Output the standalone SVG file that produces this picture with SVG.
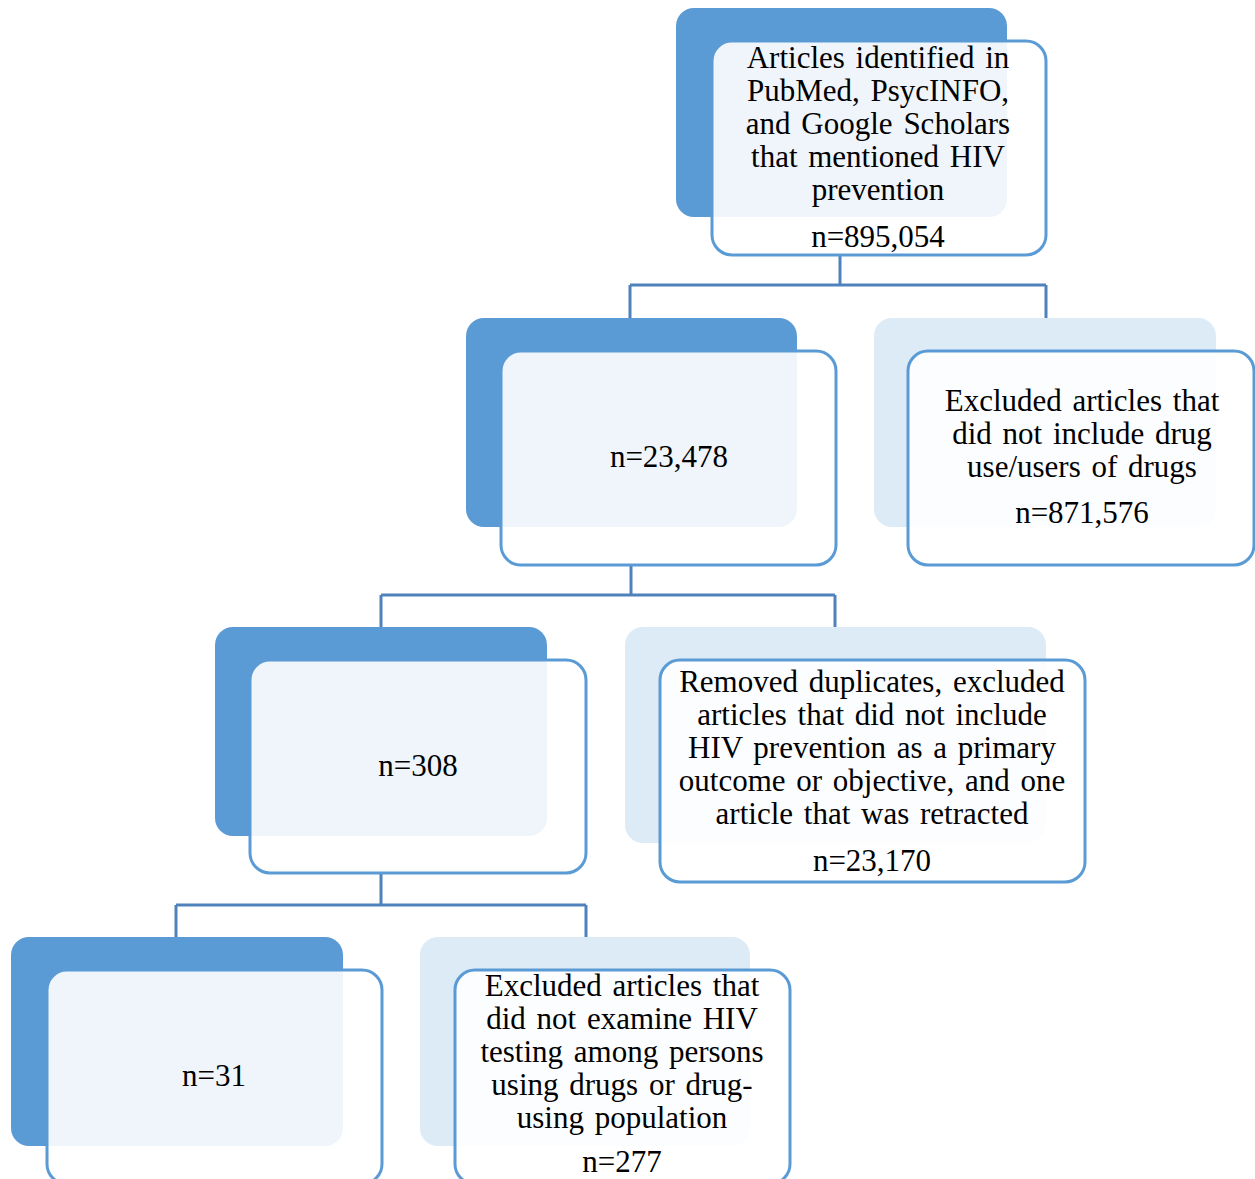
<svg xmlns="http://www.w3.org/2000/svg" width="1255" height="1179" viewBox="0 0 1255 1179">
<style>
.bd{fill:#5B9BD5}
.bl{fill:#DDEBF7}
.fr{fill:#FFFFFF;fill-opacity:0.9;stroke:#5B9BD5;stroke-width:3}
.c{fill:none;stroke:#4F81BD;stroke-width:3}
.t{font-size:31px;fill:#000;text-anchor:middle;word-spacing:3px}
</style>
<rect width="1255" height="1179" fill="#FFFFFF"/>
<g id="connectors">
<path class="c" d="M840 255V285M630 285H1046M630 285V318M1046 285V318"/>
<path class="c" d="M631 565V595M381 595H835M381 595V627M835 595V627"/>
<path class="c" d="M381 873V905M176 905H586M176 905V937M586 905V937"/>
</g>
<g font-family="'Liberation Serif', 'Times New Roman', serif" class="t">
<g id="n1">
<rect class="bd" x="676" y="8" width="331" height="209" rx="18"/>
<rect class="fr" x="712" y="41" width="334" height="214" rx="20"/>
<text x="878" y="68">Articles identified in</text>
<text x="878" y="101">PubMed, PsycINFO,</text>
<text x="878" y="134">and Google Scholars</text>
<text x="878" y="167">that mentioned HIV</text>
<text x="878" y="200">prevention</text>
<text x="878" y="247">n=895,054</text>
</g>
<g id="n2">
<rect class="bd" x="466" y="318" width="331" height="209" rx="18"/>
<rect class="fr" x="501" y="351" width="335" height="214" rx="20"/>
<text x="669" y="467">n=23,478</text>
</g>
<g id="x2">
<rect class="bl" x="874" y="318" width="342" height="209" rx="18"/>
<rect class="fr" x="908" y="351" width="346" height="214" rx="20"/>
<text x="1082" y="411">Excluded articles that</text>
<text x="1082" y="444">did not include drug</text>
<text x="1082" y="477">use/users of drugs</text>
<text x="1082" y="523">n=871,576</text>
</g>
<g id="n3">
<rect class="bd" x="215" y="627" width="332" height="209" rx="18"/>
<rect class="fr" x="250" y="660" width="336" height="213" rx="20"/>
<text x="418" y="776">n=308</text>
</g>
<g id="x3">
<rect class="bl" x="625" y="627" width="421" height="216" rx="18"/>
<rect class="fr" x="660" y="660" width="425" height="222" rx="20"/>
<text x="872" y="692">Removed duplicates, excluded</text>
<text x="872" y="725">articles that did not include</text>
<text x="872" y="758">HIV prevention as a primary</text>
<text x="872" y="791">outcome or objective, and one</text>
<text x="872" y="824">article that was retracted</text>
<text x="872" y="871">n=23,170</text>
</g>
<g id="n4">
<rect class="bd" x="11" y="937" width="332" height="209" rx="18"/>
<rect class="fr" x="47" y="970" width="335" height="214" rx="20"/>
<text x="214" y="1086">n=31</text>
</g>
<g id="x4">
<rect class="bl" x="420" y="937" width="330" height="209" rx="18"/>
<rect class="fr" x="455" y="970" width="335" height="214" rx="20"/>
<text x="622" y="996">Excluded articles that</text>
<text x="622" y="1029">did not examine HIV</text>
<text x="622" y="1062">testing among persons</text>
<text x="622" y="1095">using drugs or drug-</text>
<text x="622" y="1128">using population</text>
<text x="622" y="1172">n=277</text>
</g>
</g>
</svg>
